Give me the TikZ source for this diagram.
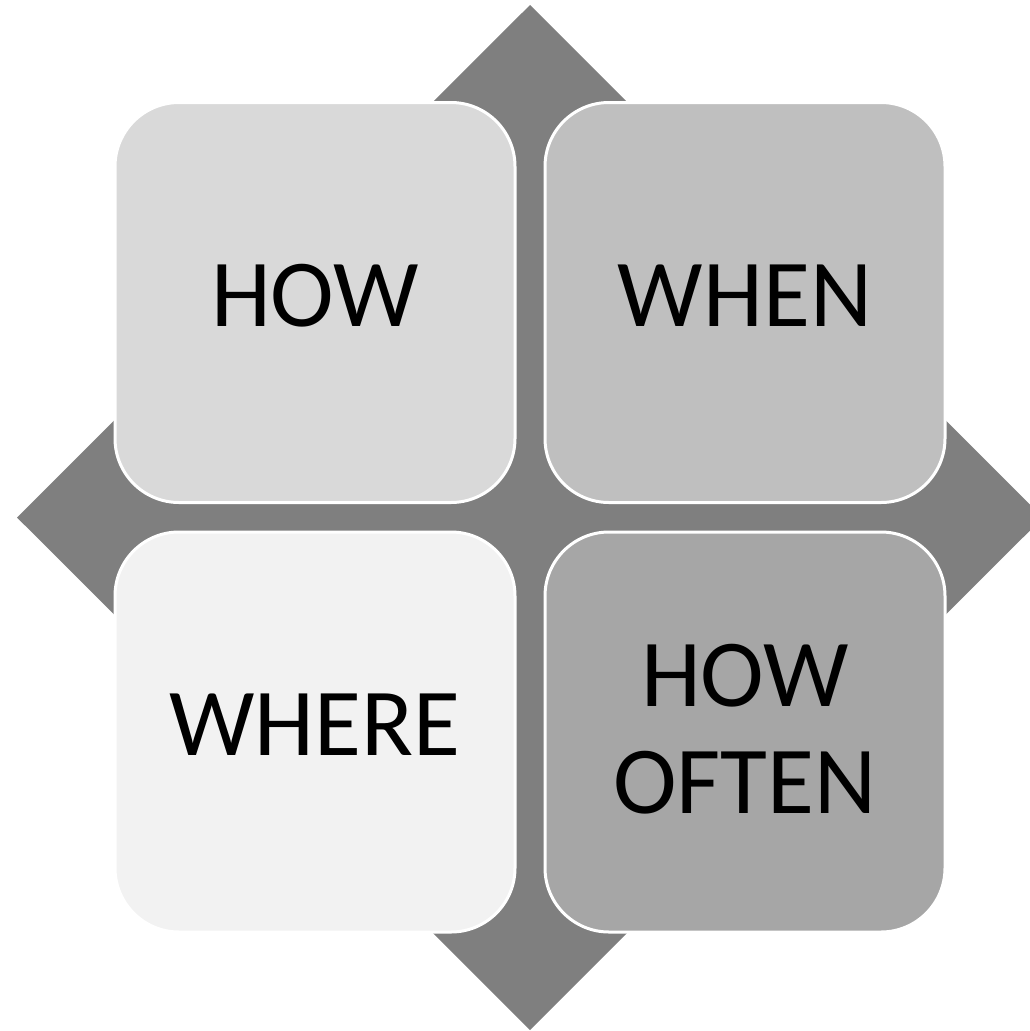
\documentclass[tikz,border=0pt]{standalone}
\usepackage{fontspec}
\setmainfont{Carlito}
\definecolor{diamondgrey}{HTML}{7F7F7F}
\definecolor{boxA}{HTML}{D9D9D9}
\definecolor{boxB}{HTML}{BFBFBF}
\definecolor{boxC}{HTML}{F2F2F2}
\definecolor{boxD}{HTML}{A6A6A6}
\begin{document}
\begin{tikzpicture}[x=1pt,y=-1pt,
  box/.style={draw=white, line width=3pt, rounded corners=64pt,
    minimum width=400pt, minimum height=400pt, inner sep=0pt},
  lbl/.style={inner sep=0pt, align=center, text=black,
    font=\fontsize{96}{107}\selectfont}]
\useasboundingbox (0,0) rectangle (1030,1031);
\clip (0,0) rectangle (1030,1031);
\fill[diamondgrey] (530,5) -- (1043,517.5) -- (530,1030) -- (17,517.5) -- cycle;
\node[box, fill=boxA] (how) at (315,302.5) {};
\node[box, fill=boxB] (when) at (745,302.5) {};
\node[box, fill=boxC] (where) at (315,732) {};
\node[box, fill=boxD] (often) at (745,732) {};
\node[lbl] (howt) at ([yshift=7pt]how.center) {HOW};
\node[lbl] (whent) at ([yshift=7pt]when.center) {WHEN};
\node[lbl] (wheret) at ([yshift=7pt]where.center) {WHERE};
\node[lbl] (oftent) at ([yshift=3pt]often.center) {HOW\\OFTEN};
\end{tikzpicture}
\end{document}
